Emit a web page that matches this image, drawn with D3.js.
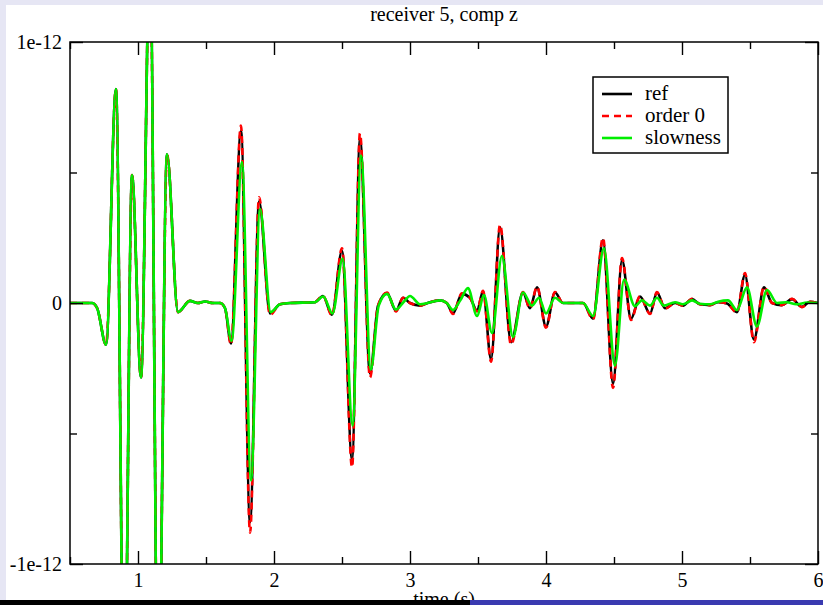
<!DOCTYPE html>
<html><head><meta charset="utf-8">
<script src="https://cdn.jsdelivr.net/npm/d3@7"></script>
<style>
body{margin:0;background:#fff}
svg{display:block}
svg text{font-family:'Liberation Serif','DejaVu Serif',serif !important;fill:#000}
</style>
</head><body><svg id="c" width="823" height="605"></svg>
<script>
// ---- data (amplitudes in units of 1e-12) ----
const title = "receiver 5, comp z";
const xLabel = "time (s)";
const xDomain = [0.5, 6];
const yDomain = [-1, 1];
const xMajor = [1, 2, 3, 4, 5, 6];
const xMinor = [0.5, 1.5, 2.5, 3.5, 4.5, 5.5];
const yMajor = [-1, 0, 1];
const yMinor = [-0.5, 0.5];
const yLabels = ["-1e-12", "0", "1e-12"];
const seriesNames = ["ref", "order 0", "slowness"];

// first arrivals, identical for all three series
const onsetTime = [0.5, 0.662, 0.70, 0.765, 0.838, 0.899, 0.956, 1.022, 1.088, 1.149, 1.213, 1.294, 1.382, 1.44, 1.493, 1.55, 1.603];
const onsetAmp  = [0, 0, -0.02, -0.16, 0.82, -1.6, 0.49, -0.285, 1.35, -1.6, 0.57, -0.035, 0.008, 0.0, 0.006, 0.0, 0.0];

const refTime = [1.64,1.684,1.757,1.824,1.890,1.971,2.044,2.118,2.30,2.360,
  2.426,2.500,2.574,2.632,2.706,2.765,2.831,2.897,2.949,3.0,
  3.074,3.13,3.221,3.27,3.316,3.382,3.441,3.493,3.537,3.596,
  3.662,3.743,3.831,3.882,3.934,4.000,4.066,4.125,4.272,4.346,
  4.419,4.493,4.559,4.625,4.691,4.765,4.816,4.875,4.949,5.007,
  5.074,5.132,5.206,5.265,5.331,5.404,5.463,5.529,5.603,5.662,
  5.735,5.809,5.882,5.941,6.0];
const refAmp = [-0.02,-0.155,0.66,-0.84,0.39,-0.04,-0.005,0,0.003,0.027,
  -0.045,0.2,-0.6,0.63,-0.27,-0.01,0.038,-0.03,0.02,0.0,
  -0.01,0.0,0.01,0.0,-0.04,0.035,0.02,-0.03,0.045,-0.215,
  0.29,-0.15,0.04,-0.02,0.06,-0.09,0.04,0.0,0.0,-0.06,
  0.24,-0.31,0.165,-0.06,0.025,-0.04,0.04,-0.02,0.0,-0.01,
  0.015,-0.005,-0.008,0.003,-0.002,-0.035,0.107,-0.14,0.06,0.0,
  -0.008,0.015,-0.015,0.005,0.0];
// order 0 shares the ref time samples
const order0Amp = [-0.02,-0.16,0.68,-0.88,0.405,-0.045,-0.005,0,0.003,0.028,
  -0.048,0.21,-0.63,0.65,-0.285,-0.01,0.04,-0.032,0.02,0.0,
  -0.01,0.0,0.01,0.0,-0.042,0.037,0.02,-0.032,0.047,-0.225,
  0.30,-0.16,0.042,-0.022,0.063,-0.095,0.042,0.0,0.0,-0.063,
  0.25,-0.325,0.172,-0.065,0.027,-0.042,0.042,-0.022,0.0,-0.01,
  0.016,-0.005,-0.008,0.003,-0.002,-0.037,0.115,-0.15,0.063,0.0,
  -0.008,0.016,-0.016,0.005,0.0];

const slowTime = [1.64,1.688,1.765,1.831,1.897,1.976,2.044,2.118,2.30,2.362,
  2.43,2.505,2.578,2.64,2.712,2.77,2.831,2.897,2.955,3.0,
  3.074,3.13,3.221,3.27,3.316,3.37,3.426,3.493,3.544,3.603,
  3.676,3.757,3.831,3.897,3.949,4.000,4.066,4.125,4.272,4.346,
  4.426,4.507,4.574,4.654,4.706,4.765,4.816,4.865,4.949,5.007,
  5.074,5.132,5.206,5.265,5.338,5.404,5.478,5.551,5.625,5.699,
  5.77,5.84,5.92,6.0];
const slowAmp = [-0.02,-0.145,0.54,-0.68,0.36,-0.035,-0.005,0,0.003,0.025,
  -0.04,0.17,-0.47,0.565,-0.255,-0.01,0.035,-0.025,0.005,0.027,
  -0.005,0.0,0.01,0.0,-0.027,0.01,0.057,-0.05,0.03,-0.115,
  0.18,-0.13,0.04,-0.01,0.02,-0.04,0.02,0.0,0.0,-0.05,
  0.21,-0.24,0.09,-0.012,0.01,-0.01,0.02,-0.01,0.003,-0.005,
  0.01,-0.003,-0.005,0.005,0.01,-0.027,0.06,-0.09,0.05,0.0,
  0.003,-0.005,0.002,0.0];

// ---- build series ----
const zip = (t, v) => t.map((d, i) => [d, v[i]]);
const onset = zip(onsetTime, onsetAmp);
const series = [
  {name: seriesNames[0], pts: onset.concat(zip(refTime, refAmp)), color: "#000000", dash: null},
  {name: seriesNames[1], pts: onset.concat(zip(refTime, order0Amp)), color: "#ff0000", dash: "7,5"},
  {name: seriesNames[2], pts: onset.concat(zip(slowTime, slowAmp)), color: "#00ee00", dash: null}
];

const FONT = "'Liberation Serif','DejaVu Serif',serif";

// ---- layout ----
const svg = d3.select("#c");
const L = 70, R = 818, T = 42, B = 564;
const x = d3.scaleLinear().domain(xDomain).range([L, R]);
const y = d3.scaleLinear().domain(yDomain).range([B, T]);

// window chrome
svg.append("rect").attr("x",0).attr("y",0).attr("width",823).attr("height",605).attr("fill","#fff");
svg.append("rect").attr("x",0).attr("y",0).attr("width",823).attr("height",5).attr("fill","#e6e6f4");
svg.append("rect").attr("x",0).attr("y",0).attr("width",6).attr("height",600).attr("fill","#e6e6f4");

svg.append("defs").append("clipPath").attr("id","pc")
  .append("rect").attr("x",L).attr("y",T).attr("width",R-L).attr("height",B-T);

// lines
const line = d3.line().x(d => x(d[0])).y(d => y(d[1])).curve(d3.curveMonotoneX);
const gl = svg.append("g").attr("clip-path","url(#pc)");
series.forEach(s => {
  gl.append("path").attr("d", line(s.pts)).attr("fill","none")
    .attr("stroke", s.color).attr("stroke-width", 2.6)
    .attr("stroke-linejoin","round")
    .attr("stroke-dasharray", s.dash);
});

// axes
function style(g){
  g.attr("font-family", FONT);
  g.select(".domain").remove();
  g.selectAll("line").attr("stroke","#000").attr("stroke-width",1.4);
  g.selectAll("text").attr("font-size","20px").style("font-family", FONT);
}
svg.append("g").attr("transform",`translate(0,${B})`)
  .call(d3.axisBottom(x).tickValues(xMajor).tickSizeInner(-13).tickSizeOuter(0).tickPadding(9).tickFormat(d3.format("d"))).call(style);
svg.append("g").attr("transform",`translate(0,${B})`)
  .call(d3.axisBottom(x).tickValues(xMinor).tickSizeInner(-7).tickSizeOuter(0).tickFormat("")).call(style);
svg.append("g").attr("transform",`translate(0,${T})`)
  .call(d3.axisTop(x).tickValues(xMajor).tickSizeInner(-13).tickSizeOuter(0).tickFormat("")).call(style);
svg.append("g").attr("transform",`translate(0,${T})`)
  .call(d3.axisTop(x).tickValues(xMinor).tickSizeInner(-7).tickSizeOuter(0).tickFormat("")).call(style);
svg.append("g").attr("transform",`translate(${L},0)`)
  .call(d3.axisLeft(y).tickValues(yMajor).tickSizeInner(-13).tickSizeOuter(0).tickPadding(8).tickFormat((d,i)=>yLabels[i])).call(style);
svg.append("g").attr("transform",`translate(${L},0)`)
  .call(d3.axisLeft(y).tickValues(yMinor).tickSizeInner(-7).tickSizeOuter(0).tickFormat("")).call(style);
svg.append("g").attr("transform",`translate(${R},0)`)
  .call(d3.axisRight(y).tickValues(yMajor).tickSizeInner(-13).tickSizeOuter(0).tickFormat("")).call(style);
svg.append("g").attr("transform",`translate(${R},0)`)
  .call(d3.axisRight(y).tickValues(yMinor).tickSizeInner(-7).tickSizeOuter(0).tickFormat("")).call(style);

// frame
svg.append("rect").attr("x",L).attr("y",T).attr("width",R-L).attr("height",B-T)
  .attr("fill","none").attr("stroke","#000").attr("stroke-width",1.5);

// title & x label
svg.append("text").attr("x",(L+R)/2).attr("y",21).attr("text-anchor","middle")
  .attr("font-size","20px").style("font-family", FONT).text(title);
svg.append("text").attr("x",(L+R)/2).attr("y",606).attr("text-anchor","middle")
  .attr("font-size","20px").style("font-family", FONT).text(xLabel);

// legend
const lg = svg.append("g");
lg.append("rect").attr("x",593).attr("y",77).attr("width",135).attr("height",76)
  .attr("fill","#fff").attr("stroke","#000").attr("stroke-width",1.5);
series.forEach((s,i) => {
  const ry = 94 + i*22;
  lg.append("line").attr("x1",602).attr("x2",632).attr("y1",ry).attr("y2",ry)
    .attr("stroke",s.color).attr("stroke-width",2.6).attr("stroke-dasharray",s.dash);
  lg.append("text").attr("x",645).attr("y",ry+6).attr("font-size","21px").style("font-family", FONT).text(s.name);
});

// bottom window bar
svg.append("rect").attr("x",0).attr("y",600).attr("width",470).attr("height",5).attr("fill","#000");
svg.append("rect").attr("x",470).attr("y",600).attr("width",353).attr("height",5).attr("fill","#3a3ab0");
</script></body></html>
